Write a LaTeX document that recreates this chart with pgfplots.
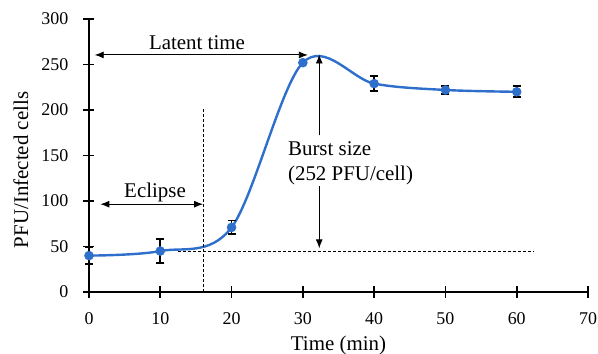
\documentclass[border=0pt]{standalone}
\usepackage{fontspec}
\setmainfont{Liberation Serif}
\usepackage{pgfplots}
\pgfplotsset{compat=1.18}
\usetikzlibrary{arrows.meta}
\definecolor{curveblue}{RGB}{47,111,204}
\begin{document}
\begin{tikzpicture}
\begin{axis}[
 scale only axis, width=499bp, height=273bp,
 xmin=0,xmax=70,ymin=0,ymax=300,
 axis lines=left, axis line style={-, line width=2.6bp, black},
 xtick={0,10,20,30,40,50,60,70}, ytick={0,50,100,150,200,250,300},
 xticklabels={0,10,20,30,40,50,60,70},
 yticklabels={0,50,100,150,200,250,300},
 tick align=center, major tick length=11bp, tick style={line width=1.8bp, black},
 /pgf/number format/assume math mode=true,
 ticklabel style={font=\rmfamily\fontsize{18}{20}\selectfont},
 xticklabel style={anchor=base, yshift=-27bp, inner sep=0pt},
 yticklabel style={anchor=east, xshift=-15bp, inner sep=0pt},
 xlabel={Time (min)}, ylabel={PFU/Infected cells},
 label style={font=\fontsize{21}{24}\selectfont},
 xlabel style={at={(axis description cs:0.5,-0.2161)}, anchor=base, inner sep=0pt},
 ylabel style={at={(axis description cs:-0.1222,0.4469)}, anchor=base, inner sep=0pt},
 clip=false,
]
\addplot[curveblue, line width=2.4bp, smooth, tension=0.55, mark=*, mark size=4.5bp,
  mark options={fill=curveblue, draw=curveblue, line width=0.5bp},
  error bars/.cd, y dir=both, y explicit,
  error bar style={black, line width=1.8bp},
  error mark options={black, rotate=90, mark size=4bp, line width=1.8bp}]
coordinates {
 (0,40) +- (0,9)
 (10,45) +- (0,13)
 (20,71) +- (0,7.5)
 (30,252) +- (0,0)
 (40,229) +- (0,8)
 (50,222) +- (0,4.5)
 (60,220) +- (0,6)
};
% annotations
\draw[black, line width=0.8bp, dash pattern=on 3bp off 2bp] (16,0) -- (16,203);
\draw[black, line width=0.8bp, dash pattern=on 3bp off 2bp] (12.5,45) -- (62.4,45);
\draw[black, line width=0.9bp, {Latex[length=9bp,width=7bp]}-{Latex[length=9bp,width=7bp]}] (0.8,260.5) -- (30.7,260.5);
\draw[black, line width=0.9bp, {Latex[length=9bp,width=7bp]}-{Latex[length=9bp,width=7bp]}] (1.6,96.5) -- (16,96.5);
\draw[black, line width=0.9bp, -{Latex[length=9bp,width=7bp]}] (32.3,172) -- (32.3,261);
\draw[black, line width=0.9bp, -{Latex[length=9bp,width=7bp]}] (32.3,116) -- (32.3,48);
\node[font=\fontsize{21}{24}\selectfont, anchor=base, inner sep=0pt] at (15.15,267) {Latent time};
\node[font=\fontsize{21}{24}\selectfont, anchor=base, inner sep=0pt] at (9.26,104) {Eclipse};
\node[font=\fontsize{21}{24}\selectfont, anchor=base west, inner sep=0pt] at (27.9,149.8) {Burst size};
\node[font=\fontsize{21}{24}\selectfont, anchor=base west, inner sep=0pt] at (27.9,123) {(252 PFU/cell)};
\end{axis}
\pgfresetboundingbox
\useasboundingbox (-89bp,-62bp) rectangle (509bp,292bp);
\end{tikzpicture}
\end{document}
